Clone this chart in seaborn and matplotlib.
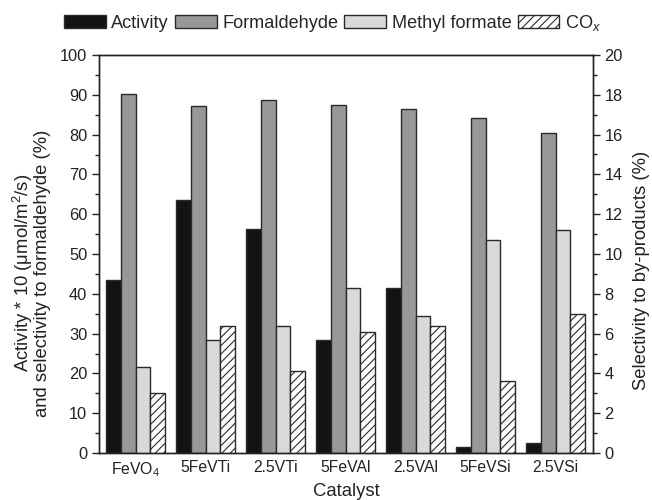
import numpy as np
import pandas as pd
import matplotlib
matplotlib.use("Agg")
import matplotlib.pyplot as plt
import matplotlib.colors as mcolors
import seaborn as sns
from matplotlib.patches import Patch
from matplotlib.ticker import MultipleLocator

catalysts = ['FeVO$_4$', '5FeVTi', '2.5VTi', '5FeVAl', '2.5VAl', '5FeVSi', '2.5VSi']
series = ['Activity', 'Formaldehyde', 'Methyl formate', 'CO$_x$']
# left axis (activity*10, selectivity to formaldehyde %)
activity = [43.4, 63.5, 56.3, 28.4, 41.4, 1.5, 2.5]
formaldehyde = [90.1, 87.3, 88.7, 87.4, 86.4, 84.2, 80.3]
# right axis (selectivity to by-products %)
methyl_formate = [4.3, 5.7, 6.4, 8.3, 6.9, 10.7, 11.2]
cox = [3.0, 6.4, 4.1, 6.1, 6.4, 3.6, 7.0]

colors = ['#121413', '#979998', '#d9d9d9', '#ffffff']
edge = '#2a2a2a'

sns.set_style('ticks')
plt.rcParams['font.family'] = ['Liberation Sans', 'DejaVu Sans']
plt.rcParams['mathtext.fontset'] = 'custom'
plt.rcParams['mathtext.rm'] = 'Liberation Sans'
plt.rcParams['mathtext.it'] = 'Liberation Sans:italic'
plt.rcParams['hatch.linewidth'] = 0.8
plt.rcParams['hatch.color'] = '#222222'

def long_df(values_by_series):
    rows = []
    for s in series:
        vals = values_by_series.get(s, [np.nan] * len(catalysts))
        for c, v in zip(catalysts, vals):
            rows.append({'Catalyst': c, 'Series': s, 'Value': v})
    return pd.DataFrame(rows)

df_left = long_df({'Activity': activity, 'Formaldehyde': formaldehyde})
df_right = long_df({'Methyl formate': methyl_formate, 'CO$_x$': cox})

fig = plt.figure(figsize=(6.52, 5.0), dpi=100)
ax = fig.add_axes([0.152, 0.094, 0.757, 0.796])
ax2 = ax.twinx()

pal = dict(zip(series, colors))
sns.barplot(data=df_left, x='Catalyst', y='Value', hue='Series', hue_order=series,
            order=catalysts, palette=pal, width=0.84, gap=0, edgecolor=edge,
            linewidth=1.0, saturation=1, errorbar=None, legend=False, ax=ax)
sns.barplot(data=df_right, x='Catalyst', y='Value', hue='Series', hue_order=series,
            order=catalysts, palette=pal, width=0.84, gap=0, edgecolor=edge,
            linewidth=1.0, saturation=1, errorbar=None, legend=False, ax=ax2)

white = mcolors.to_rgba('#ffffff')
for p in ax2.patches:
    if np.allclose(p.get_facecolor(), white):
        p.set_hatch('////')

ax.set_xlim(-0.52, 6.53)
ax.set_ylim(0, 100)
ax2.set_ylim(0, 20)
ax.yaxis.set_major_locator(MultipleLocator(10))
ax.yaxis.set_minor_locator(MultipleLocator(5))
ax2.yaxis.set_major_locator(MultipleLocator(2))
ax2.yaxis.set_minor_locator(MultipleLocator(1))

fs = 11.8
ax.tick_params(axis='y', which='major', length=5, width=1, labelsize=fs, colors='#222222', direction='out')
ax.tick_params(axis='y', which='minor', length=3, width=1, colors='#222222', direction='out')
ax2.tick_params(axis='y', which='major', length=5, width=1, labelsize=fs, colors='#222222', direction='out')
ax2.tick_params(axis='y', which='minor', length=3, width=1, colors='#222222', direction='out')
ax.tick_params(axis='x', length=0, labelsize=11.3, colors='#222222', pad=5)

for a in (ax, ax2):
    for sp in a.spines.values():
        sp.set_visible(True)
        sp.set_linewidth(1.0)
        sp.set_color('#222222')

lfs = 13.3
ax.set_xlabel('Catalyst', fontsize=lfs, color='#222222', labelpad=3)
ax.set_ylabel('Activity * 10 (μmol/m$^2$/s)\nand selectivity to formaldehyde (%)',
              fontsize=lfs, color='#222222', linespacing=0.95)
ax.yaxis.set_label_coords(-0.097, 0.452)
ax2.set_ylabel('Selectivity to by-products (%)', fontsize=lfs, color='#222222')
ax2.yaxis.set_label_coords(1.082, 0.46)

handles = [Patch(facecolor=c, edgecolor=edge, linewidth=1.0,
                 hatch='////' if s == 'CO$_x$' else None) for s, c in zip(series, colors)]
fig.legend(handles, series, loc='center', bbox_to_anchor=(0.51, 0.954), ncol=4,
           frameon=False, fontsize=13.1, handlelength=2.3, handleheight=0.66,
           handletextpad=0.32, columnspacing=0.32, borderaxespad=0, borderpad=0)

fig.savefig('out.png', dpi=100)
